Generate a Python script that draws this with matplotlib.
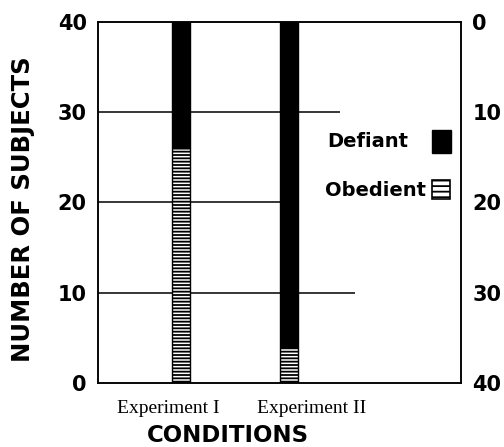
import matplotlib
matplotlib.use("Agg")
import matplotlib.pyplot as plt
from matplotlib.patches import Rectangle
from matplotlib.transforms import ScaledTranslation

# Values (40 subjects per condition).
conditions = ["Experiment I", "Experiment II"]
obedient = [26, 4]
defiant = [14, 36]
left_ticks = [0, 10, 20, 30, 40]
right_ticks = [0, 10, 20, 30, 40]
grid_levels = [10, 20, 30]
grid_ends = [1.61, 0.92, 1.47]   # where each partial rule stops (data x)

plt.rcParams["hatch.linewidth"] = 1.3

fig = plt.figure(figsize=(5.04, 4.47), dpi=100, facecolor="white")
ax = fig.add_axes([0.194, 0.143, 0.721, 0.808])

x = list(range(len(conditions)))
width = 0.167

# partial horizontal rules behind the bars
for lvl, end in zip(grid_levels, grid_ends):
    ax.hlines(lvl, -0.77, end, color="black", linewidth=1.1, zorder=1)

ax.bar(x, obedient, width=width, color="white", edgecolor="black",
       hatch="-----", linewidth=1.0, zorder=2)
ax.bar(x, defiant, width=width, bottom=obedient, color="black",
       edgecolor="black", linewidth=1.0, zorder=2)

ax.set_xlim(-0.77, 2.593)
ax.set_ylim(0, 40)
ax.set_yticks(left_ticks)
ax.tick_params(axis="y", length=0, pad=8, labelsize=15)
for t in ax.get_yticklabels():
    t.set_fontweight("bold")

ax.set_xticks(x)
ax.set_xticklabels(conditions, family="Liberation Serif", fontsize=14)
ax.tick_params(axis="x", length=0, pad=12)
# the printed labels sit a little off their bars
shifts = [-9, 16]
for lab, dx in zip(ax.get_xticklabels(), shifts):
    lab.set_transform(lab.get_transform()
                      + ScaledTranslation(dx / 72, 0, fig.dpi_scale_trans))

for s in ax.spines.values():
    s.set_linewidth(1.1)

ax.set_ylabel("NUMBER OF SUBJECTS", fontsize=17.5, fontweight="bold")
ax.yaxis.set_label_coords(-0.172, 0.482)
ax.set_xlabel("CONDITIONS", fontsize=16.5, fontweight="bold")
ax.xaxis.set_label_coords(0.358, -0.112)

# inverted scale on the right
ax2 = ax.twinx()
ax2.set_ylim(40, 0)
ax2.set_yticks(right_ticks)
ax2.tick_params(axis="y", length=0, pad=8, labelsize=15)
for t in ax2.get_yticklabels():
    t.set_fontweight("bold")
for s in ax2.spines.values():
    s.set_linewidth(1.1)

# key: labels left-aligned, swatches to their right
key_font = {"weight": "bold", "size": 14}
ax.text(0.632, 0.668, "Defiant", transform=ax.transAxes, ha="left",
        va="center", **key_font)
ax.text(0.624, 0.533, "Obedient", transform=ax.transAxes, ha="left",
        va="center", **key_font)
ax.add_patch(Rectangle((0.920, 0.637), 0.052, 0.064, transform=ax.transAxes,
                       facecolor="black", edgecolor="black", clip_on=False))
ax.add_patch(Rectangle((0.920, 0.509), 0.049, 0.053, transform=ax.transAxes,
                       facecolor="white", edgecolor="black", hatch="---",
                       linewidth=1.2, clip_on=False))

fig.savefig("out.png", dpi=100, facecolor="white")
